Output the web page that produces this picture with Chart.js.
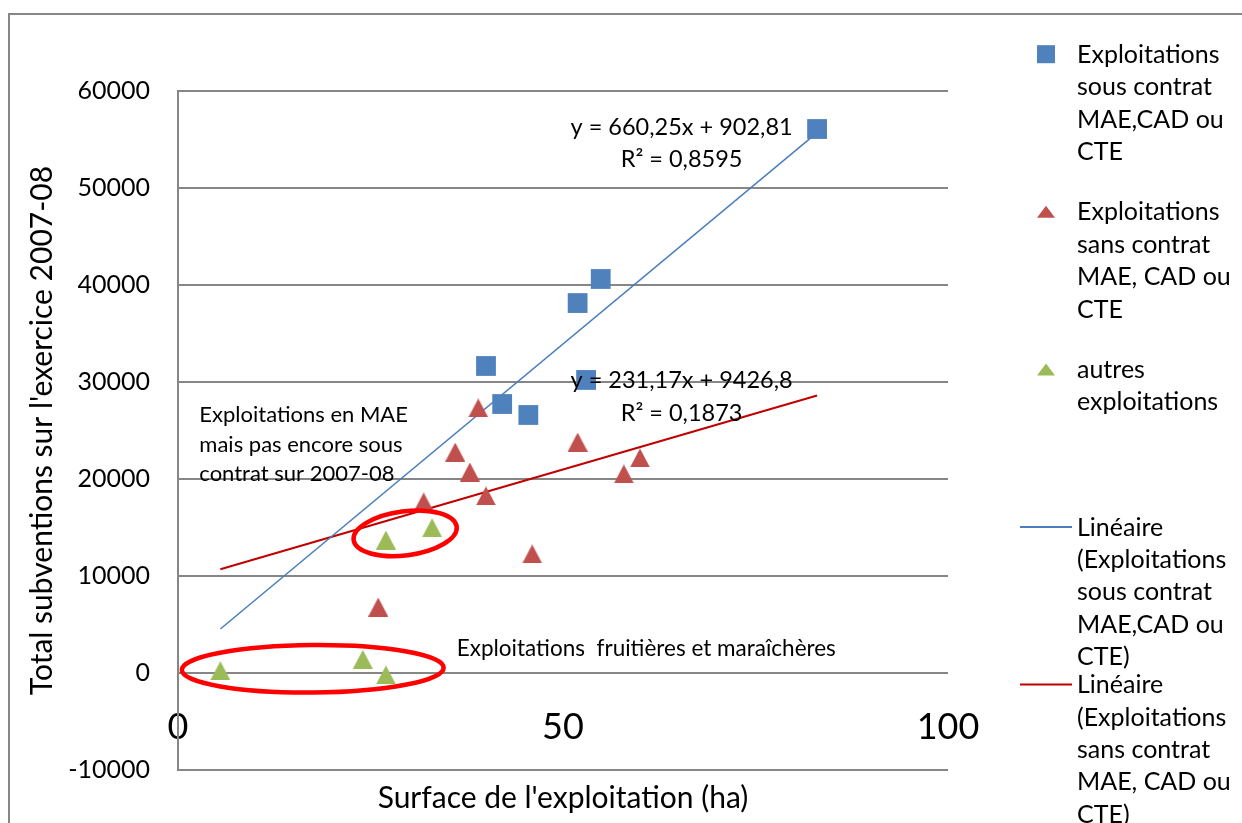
<!DOCTYPE html>
<html>
<head>
<meta charset="utf-8">
<title>Subventions et surface des exploitations</title>
<script src="https://cdn.jsdelivr.net/npm/chart.js@4.4.1/dist/chart.umd.min.js"></script>
<style>
  html, body { margin: 0; padding: 0; background: #fff; }
</style>
</head>
<body>
<canvas id="myChart" width="1242" height="823"></canvas>
<script>
// surface (ha) et total des subventions 2007-08, par groupe d'exploitations
const sousContratX = [83.0, 54.9, 51.9, 40.0, 53.0, 42.1, 45.5];
const sousContratY = [56080, 40620, 38140, 31650, 30210, 27730, 26600];

const sansContratX = [39.0, 36.0, 37.9, 40.0, 31.9, 51.9, 57.9, 60.0, 46.0, 26.0];
const sansContratY = [27320, 22780, 20720, 18250, 17630, 23810, 20520, 22170, 12270, 6800];

const autresX = [5.5, 24.0, 27.0, 27.0, 33.0];
const autresY = [240, 1410, -200, 13710, 14980];

// droites de tendance linéaires (y = a.x + b) et leur R²
const trendSous = { a: 660.25, b: 902.81, r2: 0.8595 };
const trendSans = { a: 231.17, b: 9426.8, r2: 0.1873 };

const xTicks = [0, 50, 100];
const yTicks = [-10000, 0, 10000, 20000, 30000, 40000, 50000, 60000];

const legendLines = [
  ['Exploitations', 'sous contrat', 'MAE,CAD ou', 'CTE'],
  ['Exploitations', 'sans contrat', 'MAE, CAD ou', 'CTE'],
  ['autres', 'exploitations'],
  ['Linéaire', '(Exploitations', 'sous contrat', 'MAE,CAD ou', 'CTE)'],
  ['Linéaire', '(Exploitations', 'sans contrat', 'MAE, CAD ou', 'CTE)']
];

const FONT = 'Lato, "Open Sans", sans-serif';
const GRID = '#868686';

// écriture française des nombres
function fr(n) { return String(n).replace('.', ','); }
function pairs(xs, ys) { return xs.map((x, i) => ({ x: x, y: ys[i] })); }

const allX = sousContratX.concat(sansContratX, autresX);
const xMin = Math.min.apply(null, allX);
const xMax = Math.max.apply(null, allX);
function trendPoints(t) { return [xMin, xMax].map(x => ({ x: x, y: t.a * x + t.b })); }
function eqLines(t) { return ['y = ' + fr(t.a) + 'x + ' + fr(t.b), 'R² = ' + fr(t.r2)]; }

// triangle façon Excel : centré sur sa boîte englobante
function triangleImage(color, w, h) {
  const c = document.createElement('canvas');
  c.width = w; c.height = h;
  const g = c.getContext('2d');
  g.fillStyle = color;
  g.beginPath();
  g.moveTo(w / 2, 0); g.lineTo(w, h); g.lineTo(0, h);
  g.closePath(); g.fill();
  return c;
}

const BLUE = '#4F81BD', RED = '#C0504D', GREEN = '#9BBB59';

// textes et ellipses ajoutés sur le graphique (coordonnées en valeurs des axes)
const notes = [
  { x: 65.4, y: 55460, align: 'center', size: 23.5, step: 32.3, lines: eqLines(trendSous) },
  { x: 65.4, y: 29350, align: 'center', size: 23.5, step: 32.3, lines: eqLines(trendSans) },
  { x: 2.77, y: 25845, align: 'left', size: 22, step: 29.2,
    lines: ['Exploitations en MAE', 'mais pas encore sous', 'contrat sur 2007-08'] },
  { x: 36.2, y: 1753, align: 'left', size: 22.5, step: 0,
    lines: ['Exploitations  fruitières et maraîchères'] }
];
const rings = [
  { x: 29.5, y: 14400, rx: 6.75, ry: 2270, rot: -7.4 },
  { x: 17.5, y: 430, rx: 17.0, ry: 2450, rot: -0.5 }
];

const decor = {
  id: 'decor',
  beforeDraw(chart) {
    const ctx = chart.ctx;
    ctx.save();
    ctx.fillStyle = '#fff';
    ctx.fillRect(0, 0, chart.width, chart.height);
    ctx.strokeStyle = GRID;
    ctx.lineWidth = 2;
    ctx.strokeRect(9, 14, chart.width + 40, chart.height + 40);
    ctx.restore();
  },
  afterDatasetsDraw(chart) {
    const ctx = chart.ctx, xs = chart.scales.x, ys = chart.scales.y;
    ctx.save();
    ctx.strokeStyle = '#FF0000';
    ctx.lineWidth = 4.5;
    rings.forEach(r => {
      const cx = xs.getPixelForValue(r.x), cy = ys.getPixelForValue(r.y);
      const rx = Math.abs(xs.getPixelForValue(r.x + r.rx) - cx);
      const ry = Math.abs(ys.getPixelForValue(r.y + r.ry) - cy);
      ctx.beginPath();
      ctx.ellipse(cx, cy, rx, ry, r.rot * Math.PI / 180, 0, Math.PI * 2);
      ctx.stroke();
    });
    ctx.fillStyle = '#000';
    ctx.textBaseline = 'alphabetic';
    notes.forEach(n => {
      ctx.font = n.size + 'px ' + FONT;
      ctx.textAlign = n.align;
      const x = xs.getPixelForValue(n.x), y = ys.getPixelForValue(n.y);
      n.lines.forEach((t, k) => ctx.fillText(t, x, y + k * n.step));
    });
    ctx.restore();
  },
  afterDraw(chart) {
    // légende à droite, une entrée par série
    const ctx = chart.ctx;
    const markX = 1046, textX = 1077, firstBase = 62.7, slot = 157.6, step = 32.4;
    ctx.save();
    ctx.font = '25px ' + FONT;
    ctx.fillStyle = '#000';
    ctx.textAlign = 'left';
    ctx.textBaseline = 'alphabetic';
    chart.data.datasets.forEach((ds, i) => {
      const base = firstBase + slot * i;
      const mid = base - 8.5;
      if (ds.showLine) {
        ctx.strokeStyle = ds.borderColor;
        ctx.lineWidth = 2;
        ctx.beginPath();
        ctx.moveTo(1020, mid); ctx.lineTo(1072, mid);
        ctx.stroke();
      } else if (ds.pointStyle === 'rect') {
        ctx.fillStyle = ds.backgroundColor;
        ctx.fillRect(markX - 9, mid - 9, 18, 18);
      } else {
        ctx.fillStyle = ds.backgroundColor;
        ctx.beginPath();
        ctx.moveTo(markX, mid - 6); ctx.lineTo(markX + 9, mid + 6); ctx.lineTo(markX - 9, mid + 6);
        ctx.closePath(); ctx.fill();
      }
      ctx.fillStyle = '#000';
      legendLines[i].forEach((t, k) => ctx.fillText(t, textX, base + k * step));
    });
    ctx.restore();
  }
};

new Chart(document.getElementById('myChart'), {
  type: 'scatter',
  data: {
    datasets: [
      { label: legendLines[0].join(' '), data: pairs(sousContratX, sousContratY),
        pointStyle: 'rect', pointRadius: 14, backgroundColor: BLUE, borderWidth: 0, order: 0 },
      { label: legendLines[1].join(' '), data: pairs(sansContratX, sansContratY),
        pointStyle: triangleImage(RED, 20, 19), pointRadius: 10, backgroundColor: RED, borderWidth: 0, order: 0 },
      { label: legendLines[2].join(' '), data: pairs(autresX, autresY),
        pointStyle: triangleImage(GREEN, 20, 19), pointRadius: 10, backgroundColor: GREEN, borderWidth: 0, order: 0 },
      { label: legendLines[3].join(' '), data: trendPoints(trendSous), showLine: true,
        pointRadius: 0, borderColor: '#4A7EBB', borderWidth: 1.5, order: 1 },
      { label: legendLines[4].join(' '), data: trendPoints(trendSans), showLine: true,
        pointRadius: 0, borderColor: '#C00000', borderWidth: 2, order: 1 }
    ]
  },
  options: {
    responsive: false,
    devicePixelRatio: 1,
    animation: false,
    layout: { padding: { left: 8, top: 91, right: 294, bottom: 53 } },
    plugins: { legend: { display: false }, tooltip: { enabled: false } },
    scales: {
      x: {
        type: 'linear',
        min: 0,
        max: 100,
        position: { y: 0 },
        afterBuildTicks: s => { s.ticks = xTicks.map(v => ({ value: v })); },
        afterFit: s => { s.height = 143; },
        grid: { display: false, drawTicks: false },
        border: { display: false },
        ticks: { color: '#000', font: { family: FONT, size: 36 }, padding: 33,
                 maxRotation: 0, autoSkip: false, callback: v => String(v) },
        title: { display: true, text: "Surface de l'exploitation (ha)", color: '#000',
                 font: { family: FONT, size: 30 }, padding: 0 }
      },
      y: {
        type: 'linear',
        min: -10000,
        max: 60000,
        position: 'left',
        afterBuildTicks: s => { s.ticks = yTicks.map(v => ({ value: v })); },
        afterFit: s => { s.width = 170; },
        grid: { color: GRID, lineWidth: 2, drawTicks: false },
        border: { display: true, color: GRID, width: 2 },
        ticks: { color: '#000', font: { family: FONT, size: 25 }, padding: 28,
                 autoSkip: false, callback: v => String(v) },
        title: { display: true, text: "Total subventions sur l'exercice 2007-08", color: '#000',
                 font: { family: FONT, size: 30 }, padding: { top: 16, bottom: 0 } }
      }
    }
  },
  plugins: [decor]
});
</script>
</body>
</html>
